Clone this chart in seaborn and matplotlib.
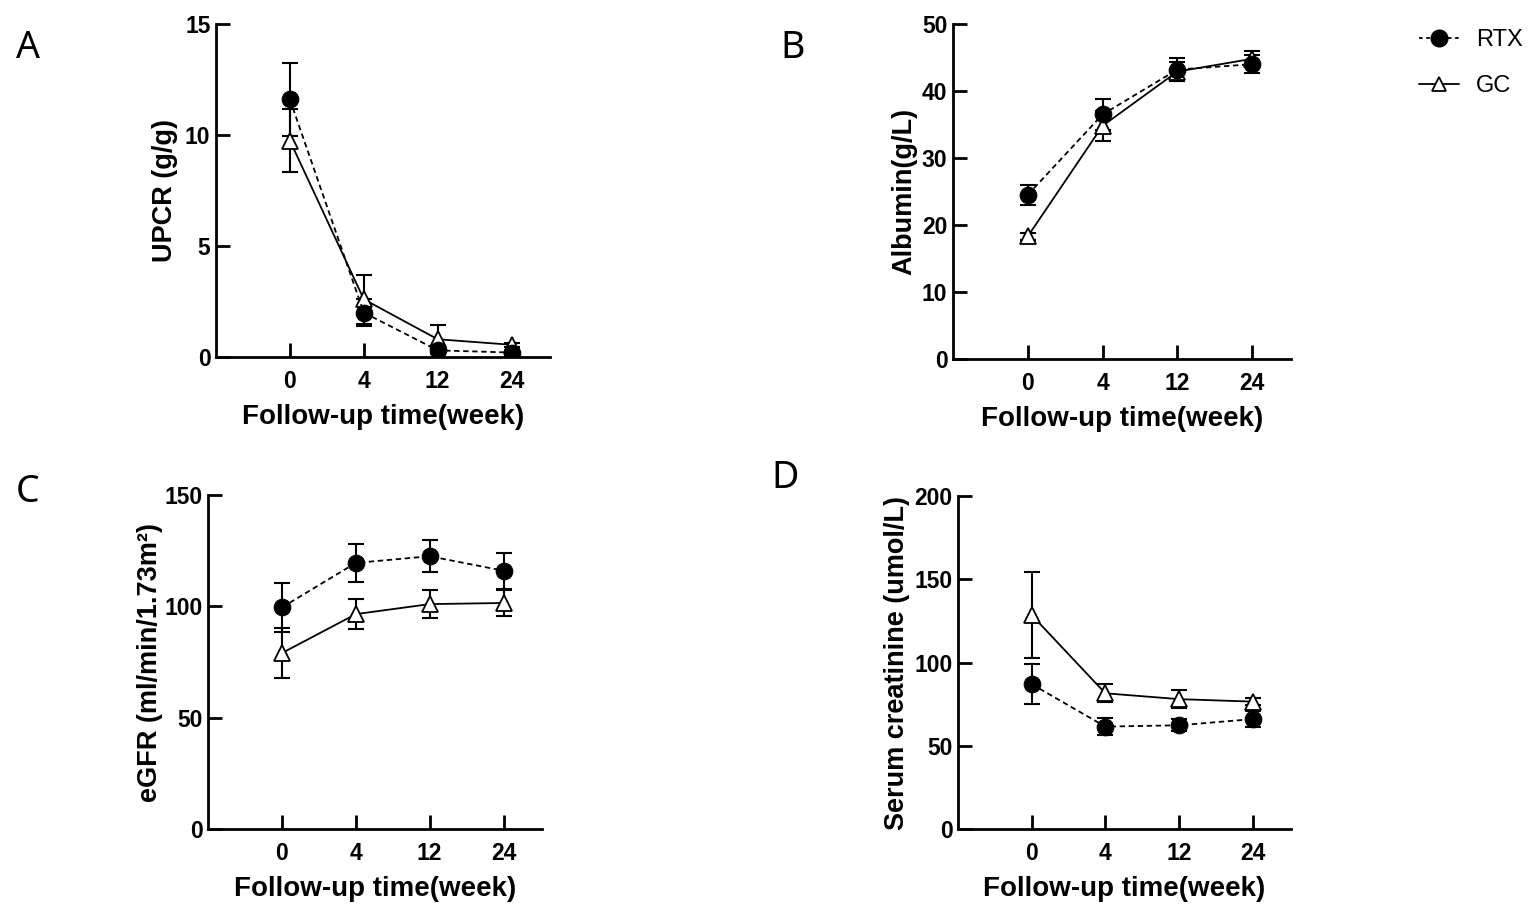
import numpy as np
import pandas as pd
import matplotlib
matplotlib.use("Agg")
import matplotlib.pyplot as plt
import seaborn as sns
from matplotlib.lines import Line2D


# General settings
sns.set_style("ticks")
plt.rcParams["font.family"] = ["Liberation Sans", "DejaVu Sans"]
plt.rcParams["text.color"] = "black"
plt.rcParams["axes.labelcolor"] = "black"
plt.rcParams["axes.edgecolor"] = "black"
plt.rcParams["xtick.color"] = "black"
plt.rcParams["ytick.color"] = "black"

weeks = ["0", "4", "12", "24"]
groups = ["RTX", "GC"]

# mean values and error (SEM)
upcr_rtx = [11.6, 2.0, 0.3, 0.2]
upcr_rtx_err = [1.65, 0.6, 0.1, 0.1]
upcr_gc = [9.75, 2.6, 0.8, 0.55]
upcr_gc_err = [1.4, 1.1, 0.65, 0.1]

alb_rtx = [24.5, 36.5, 43.2, 44.0]
alb_rtx_err = [1.5, 2.3, 1.7, 1.3]
alb_gc = [18.3, 34.8, 42.9, 44.8]
alb_gc_err = [0.5, 2.2, 1.4, 1.1]

egfr_rtx = [99.5, 119.5, 122.5, 116.0]
egfr_rtx_err = [11.0, 8.7, 7.2, 8.0]
egfr_gc = [79.0, 96.5, 101.0, 101.5]
egfr_gc_err = [11.3, 6.9, 6.3, 6.0]

scr_rtx = [87.0, 61.5, 62.3, 66.0]
scr_rtx_err = [12.0, 5.0, 3.5, 5.0]
scr_gc = [128.5, 81.5, 78.0, 76.5]
scr_gc_err = [26.0, 5.5, 5.5, 2.0]

panels = [
    ("A", "UPCR (g/g)", [0, 5, 10, 15], upcr_rtx, upcr_rtx_err, upcr_gc, upcr_gc_err),
    ("B", "Albumin(g/L)", [0, 10, 20, 30, 40, 50], alb_rtx, alb_rtx_err, alb_gc, alb_gc_err),
    ("C", "eGFR (ml/min/1.73m\u00b2)", [0, 50, 100, 150], egfr_rtx, egfr_rtx_err, egfr_gc, egfr_gc_err),
    ("D", "Serum creatinine (umol/L)", [0, 50, 100, 150, 200], scr_rtx, scr_rtx_err, scr_gc, scr_gc_err),
]

W, H = 1535, 921
# axes boxes in pixels: left, top, right, bottom
boxes = [
    (216, 24, 550, 357),
    (953, 24, 1291, 359),
    (208, 495, 542, 829),
    (958, 496, 1291, 829),
]
letter_pos = [(28, 48), (793, 48), (28, 492), (785, 478)]
ylabel_pad = [5, 3, 1, 3]

styles = {
    "RTX": dict(marker="o", markersize=12, markerfacecolor="black", markeredgecolor="black",
                linestyle=(0, (3, 2)), zorder=4),
    "GC": dict(marker="^", markersize=11, markerfacecolor="white", markeredgecolor="black",
               markeredgewidth=1.3, linestyle="-", zorder=3),
}


def make_frame(rtx, rtx_err, gc, gc_err):
    rows = []
    for i, w in enumerate(weeks):
        rows.append({"pos": i, "week": w, "group": "RTX", "value": rtx[i], "err": rtx_err[i]})
        rows.append({"pos": i, "week": w, "group": "GC", "value": gc[i], "err": gc_err[i]})
    return pd.DataFrame(rows)


fig = plt.figure(figsize=(W / 100, H / 100), dpi=100)

for (letter, ylabel, yticks, rtx, rtx_err, gc, gc_err), box, lp, yp in zip(panels, boxes, letter_pos, ylabel_pad):
    l, t, r, b = box
    ax = fig.add_axes([l / W, 1 - b / H, (r - l) / W, (b - t) / H])
    df = make_frame(rtx, rtx_err, gc, gc_err)

    for g in groups:
        sub = df[df["group"] == g]
        ax.errorbar(sub["pos"], sub["value"], yerr=sub["err"], fmt="none", ecolor="black",
                    elinewidth=1.5, capsize=6, capthick=1.5, zorder=2)
        sns.lineplot(data=sub, x="pos", y="value", ax=ax, color="black", linewidth=1.3,
                     errorbar=None, label=g, legend=False, **styles[g])

    ax.set_xlim(-1.0, 3.52)
    ax.set_ylim(yticks[0], yticks[-1])
    ax.set_xticks(range(len(weeks)), weeks, fontsize=16.5, fontweight="bold")
    ax.set_yticks(yticks, [str(v) for v in yticks], fontsize=16.5, fontweight="bold")
    ax.tick_params(axis="x", direction="in", length=10, width=2, pad=9)
    ax.tick_params(axis="y", direction="in", length=10, width=2, pad=4)
    ax.set_xlabel("Follow-up time(week)", fontsize=20, fontweight="bold", labelpad=8)
    ax.set_ylabel(ylabel, fontsize=19.5, fontweight="bold", labelpad=yp)
    sns.despine(ax=ax)
    for s in ["left", "bottom"]:
        ax.spines[s].set_linewidth(2)
    fig.text(lp[0] / W, 1 - lp[1] / H, letter, fontsize=27, ha="center", va="center",
             family=["Noto Sans", "DejaVu Sans"])

handles = [
    Line2D([], [], color="black", linewidth=1.3, linestyle=(0, (2, 2)), marker="o",
           markersize=12, markerfacecolor="black"),
    Line2D([], [], color="black", linewidth=1.3, linestyle="-", marker="^",
           markersize=10, markerfacecolor="white", markeredgewidth=1.3),
]
fig.legend(handles, groups, loc="upper left", bbox_to_anchor=(1398 / W, 1 - 8 / H),
           frameon=False, fontsize=17, handlelength=1.7, handletextpad=0.7, labelspacing=1.0)

fig.savefig("out.png", dpi=100)
